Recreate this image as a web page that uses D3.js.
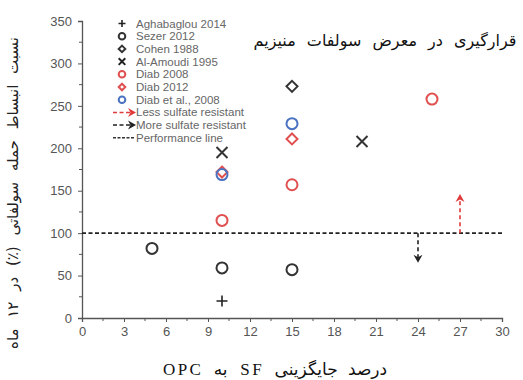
<!DOCTYPE html>
<html>
<head>
<meta charset="utf-8">
<script src="https://cdn.jsdelivr.net/npm/d3@7"></script>
<style>
  body { margin: 0; background: #fff; }
  svg { display: block; }
  .tick text { font-family: Arial, "Liberation Sans", sans-serif; font-size: 13px; fill: #555; }
  .domain, .tick line { stroke: #555; }
</style>
</head>
<body>
<div id="viz"></div>
<script>
// data
const aghabaglou = [[10, 20]];
const sezer = [[5, 82], [10, 59], [15, 57]];
const cohen = [[15, 273]];
const alAmoudi = [[10, 195], [20, 208]];
const diab2008 = [[10, 115], [15, 157], [25, 258]];
const diab2012 = [[10, 172], [15, 211]];
const diabEtAl = [[10, 169], [15, 229]];
const performance = 100;
const lessArrow = { x: 27, from: 100, to: 146 };
const moreArrow = { x: 24, from: 100, to: 65 };
const xTicks = [0, 3, 6, 9, 12, 15, 18, 21, 24, 27, 30];
const yTicks = [0, 50, 100, 150, 200, 250, 300, 350];

const legendItems = [
  { label: "Aghabaglou 2014", kind: "plus", color: "#222" },
  { label: "Sezer 2012", kind: "circle", color: "#333" },
  { label: "Cohen 1988", kind: "diamond", color: "#333" },
  { label: "Al-Amoudi 1995", kind: "x", color: "#222" },
  { label: "Diab 2008", kind: "circle", color: "#e05050" },
  { label: "Diab 2012", kind: "diamond", color: "#e05050" },
  { label: "Diab et al., 2008", kind: "circle", color: "#4a72c0" },
  { label: "Less sulfate resistant", kind: "arrow", color: "#e03a3a" },
  { label: "More sulfate resistant", kind: "arrow", color: "#222" },
  { label: "Performance line", kind: "line", color: "#333" }
];

const W = 523, H = 380;
const svg = d3.select("#viz").append("svg").attr("width", W).attr("height", H);

const x = d3.scaleLinear().domain([0, 30]).range([82, 502]);
const y = d3.scaleLinear().domain([0, 350]).range([318, 21]);

// axes
const xAxis = svg.append("g").attr("transform", `translate(0,${y(0)})`)
  .call(d3.axisBottom(x).tickValues(xTicks).tickSize(4).tickPadding(5));
xAxis.append("g").selectAll("line")
  .data(d3.range(1.5, 30, 3))
  .join("line")
  .attr("x1", d => x(d)).attr("x2", d => x(d))
  .attr("y1", 0).attr("y2", 3).attr("stroke", "#555");

const yAxis = svg.append("g").attr("transform", `translate(${x(0)},0)`)
  .call(d3.axisLeft(y).tickValues(yTicks).tickSize(4).tickPadding(6));
yAxis.append("g").selectAll("line")
  .data(d3.range(25, 350, 50))
  .join("line")
  .attr("y1", d => y(d)).attr("y2", d => y(d))
  .attr("x1", 0).attr("x2", -3).attr("stroke", "#555");
svg.selectAll(".domain").attr("stroke-width", 1.3);

// markers
function drawMarker(g, kind, color, s) {
  if (kind === "circle") {
    g.append("circle").attr("r", s).attr("fill", "none").attr("stroke", color).attr("stroke-width", 2);
  } else if (kind === "diamond") {
    g.append("path").attr("d", `M0,${-s}L${s},0L0,${s}L${-s},0Z`)
      .attr("fill", "none").attr("stroke", color).attr("stroke-width", 2);
  } else if (kind === "plus") {
    g.append("path").attr("d", `M${-s},0H${s}M0,${-s}V${s}`)
      .attr("stroke", color).attr("stroke-width", 1.6);
  } else if (kind === "x") {
    g.append("path").attr("d", `M${-s},${-s}L${s},${s}M${-s},${s}L${s},${-s}`)
      .attr("stroke", color).attr("stroke-width", 2);
  }
}

const series = [
  { data: aghabaglou, kind: "plus", color: "#222", s: 5.5 },
  { data: sezer, kind: "circle", color: "#333", s: 5.5 },
  { data: cohen, kind: "diamond", color: "#333", s: 5.5 },
  { data: alAmoudi, kind: "x", color: "#333", s: 5.5 },
  { data: diab2008, kind: "circle", color: "#e05050", s: 5.5 },
  { data: diab2012, kind: "diamond", color: "#e05050", s: 5.5 },
  { data: diabEtAl, kind: "circle", color: "#4a72c0", s: 5.5 }
];

// performance line
svg.append("line")
  .attr("x1", x(0)).attr("x2", x(30))
  .attr("y1", y(performance)).attr("y2", y(performance))
  .attr("stroke", "#222").attr("stroke-width", 1.6).attr("stroke-dasharray", "4,2.5");

series.forEach(sr => {
  sr.data.forEach(d => {
    const g = svg.append("g").attr("transform", `translate(${x(d[0])},${y(d[1])})`);
    drawMarker(g, sr.kind, sr.color, sr.s);
  });
});

// arrows
function arrow(x1, y1, x2, y2, color) {
  const ang = Math.atan2(y2 - y1, x2 - x1);
  const len = Math.hypot(x2 - x1, y2 - y1);
  const g = svg.append("g").attr("transform", `translate(${x1},${y1}) rotate(${ang * 180 / Math.PI})`);
  g.append("line").attr("x1", 0).attr("x2", len - 5).attr("y1", 0).attr("y2", 0)
    .attr("stroke", color).attr("stroke-width", 1.6).attr("stroke-dasharray", "4,3");
  g.append("path").attr("d", `M${len},0L${len - 8},-4.5L${len - 5.5},0L${len - 8},4.5Z`).attr("fill", color);
}
arrow(x(lessArrow.x), y(lessArrow.from), x(lessArrow.x), y(lessArrow.to), "#e03a3a");
arrow(x(moreArrow.x), y(moreArrow.from), x(moreArrow.x), y(moreArrow.to), "#222");

// legend
const legend = svg.append("g");
legendItems.forEach((d, i) => {
  const cy = 23.5 + i * 12.7;
  const g = legend.append("g").attr("transform", `translate(122,${cy})`);
  if (d.kind === "arrow") {
    g.append("line").attr("x1", -9).attr("x2", 8).attr("y1", 0).attr("y2", 0)
      .attr("stroke", d.color).attr("stroke-width", 1.5).attr("stroke-dasharray", "4,2.5");
    g.append("path").attr("d", "M14,0L6,-4.5L8.5,0L6,4.5Z").attr("fill", d.color);
  } else if (d.kind === "line") {
    g.append("line").attr("x1", -9).attr("x2", 13).attr("y1", 0).attr("y2", 0)
      .attr("stroke", d.color).attr("stroke-width", 1.5).attr("stroke-dasharray", "3,1.5");
  } else {
    drawMarker(g, d.kind, d.color, d.kind === "plus" ? 3.5 : 3.3);
  }
  g.append("text").attr("x", 14).attr("y", 4)
    .attr("font-family", "Arial, 'Liberation Sans', sans-serif")
    .attr("font-size", 11.5).attr("fill", "#666").text(d.label);
});

// titles (right-to-left)
svg.append("text")
  .attr("x", 385).attr("y", 46).attr("text-anchor", "middle")
  .attr("direction", "rtl")
  .attr("font-family", "'DejaVu Sans', serif").attr("font-size", 16)
  .attr("letter-spacing", 3).attr("word-spacing", 6).attr("fill", "#111")
  .text("قرارگیری در معرض سولفات منیزیم");

svg.append("text")
  .attr("transform", "translate(18,193) rotate(-90)")
  .attr("text-anchor", "middle")
  .attr("direction", "rtl")
  .attr("font-family", "'DejaVu Sans', serif").attr("font-size", 15)
  .attr("letter-spacing", 2.5).attr("word-spacing", 6).attr("fill", "#222")
  .text("نسبت انبساط حمله سولفاتی (٪) در ۱۲ ماه");

svg.append("text")
  .attr("x", 275).attr("y", 375).attr("text-anchor", "middle")
  .attr("direction", "rtl")
  .attr("font-family", "'Liberation Serif', 'DejaVu Sans', serif").attr("font-size", 17)
  .attr("letter-spacing", 2.5).attr("word-spacing", 6).attr("fill", "#111")
  .text("درصد جایگزینی SF به OPC");
</script>
</body>
</html>
